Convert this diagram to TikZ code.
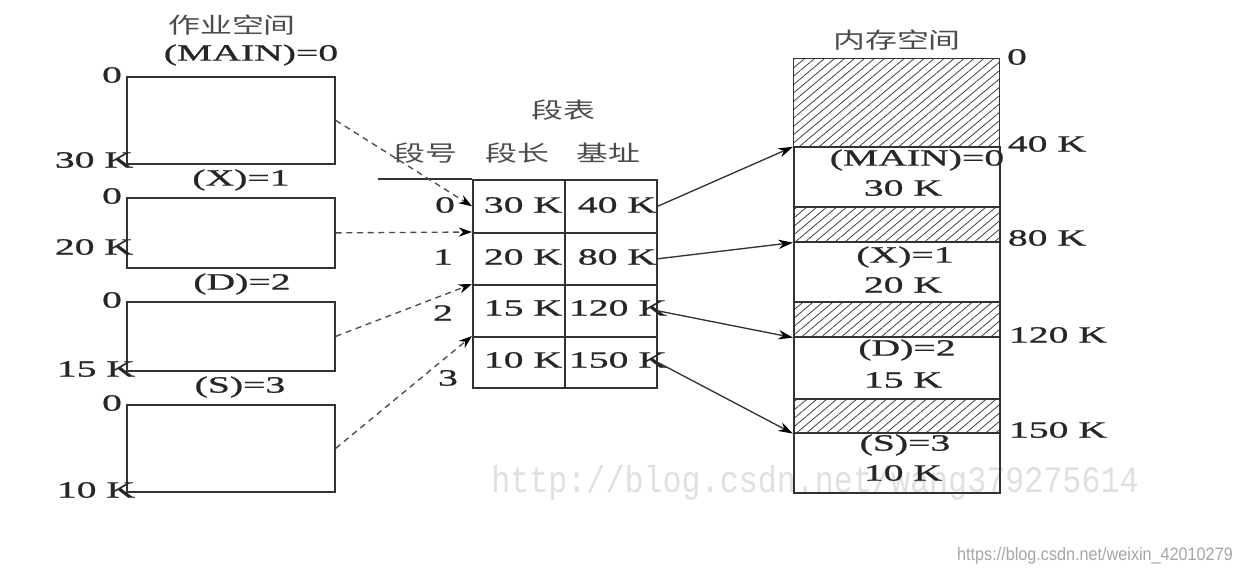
\documentclass[tikz,border=0pt]{standalone}
\usepackage{fontspec}
\setmainfont{Liberation Serif}[FakeStretch=1.7,FakeBold=0.9]
\newfontfamily\cjk{Noto Sans CJK SC}[FakeStretch=1.45]
\newfontfamily\wmmono{Liberation Mono}[FakeStretch=0.85]
\newfontfamily\wmsans{Liberation Sans}[FakeStretch=0.9]
\usetikzlibrary{arrows.meta,patterns.meta}
\newcommand\pxu{0.75pt}
\begin{document}
\begin{tikzpicture}[x=0.75pt,y=-0.75pt,
  lbl/.style={inner sep=0pt, font=\fontsize{17.5}{19}\selectfont, text=black!85},
  cjkl/.style={inner sep=0pt, font=\cjk\fontsize{16.5}{18}\selectfont, text=black!70},
  seg/.style={draw=black!80, line width=1.3pt, inner sep=0pt, anchor=north west, minimum width=208*\pxu},
  cell/.style={draw=black!80, line width=1.2pt, inner sep=0pt, anchor=north west, minimum width=92*\pxu},
  memw/.style={draw=black!80, line width=1.2pt, inner sep=0pt, anchor=north west, minimum width=206*\pxu},
  memh/.style={memw, pattern={Lines[angle=40,distance=4.8pt,line width=0.6pt]}, pattern color=black!75},
  dsh/.style={draw=black!70, line width=1pt, dash pattern=on 4.5pt off 3.5pt, -{Stealth[length=10pt,width=7pt,color=black]}},
  sol/.style={draw=black!80, line width=1pt, -{Stealth[length=11pt,width=7pt,color=black]}}
]
\useasboundingbox (0,0) rectangle (1240,575);
\fill[white] (0,0) rectangle (1240,575);

% watermarks
\node[inner sep=0pt, font=\wmmono\fontsize{28}{30}\selectfont, text=black!12] (wm1) at (815,483) {http://blog.csdn.net/wang379275614};
\node[inner sep=0pt, font=\wmsans\fontsize{13.5}{15}\selectfont, text=black!35] (wm2) at (1095,556) {https://blog.csdn.net/weixin\_42010279};

% job space
\node[cjkl] (t1) at (232,25) {作业空间};
\node[seg, minimum height=87*\pxu] (b1) at (126,76) {};
\node[seg, minimum height=70*\pxu] (b2) at (126,197) {};
\node[seg, minimum height=69*\pxu] (b3) at (126,301) {};
\node[seg, minimum height=87*\pxu] (b4) at (126,404) {};
\node[lbl] (n1) at (251,55) {(MAIN)=0};
\node[lbl] (n2) at (241,180) {(X)=1};
\node[lbl] (n3) at (242,284) {(D)=2};
\node[lbl] (n4) at (240,387) {(S)=3};
\node[lbl] (z1) at (112,75) {0};
\node[lbl] (z2) at (112,196) {0};
\node[lbl] (z3) at (112,300) {0};
\node[lbl] (z4) at (112,403) {0};
\node[lbl] (e1) at (94,160) {30 K};
\node[lbl] (e2) at (94,247) {20 K};
\node[lbl] (e3) at (96,369) {15 K};
\node[lbl] (e4) at (96,490) {10 K};

% segment table
\node[cjkl] (t2) at (563,110) {段表};
\node[cjkl] (h1) at (425,153) {段号};
\node[cjkl] (h2) at (517,153) {段长};
\node[cjkl] (h3) at (608,153) {基址};
\node[cell, minimum height=53*\pxu] (c01) at (472,179) {};
\node[cell, minimum height=53*\pxu] (c02) at (564,179) {};
\node[cell, minimum height=52*\pxu] (c11) at (472,232) {};
\node[cell, minimum height=52*\pxu] (c12) at (564,232) {};
\node[cell, minimum height=52*\pxu] (c21) at (472,284) {};
\node[cell, minimum height=52*\pxu] (c22) at (564,284) {};
\node[cell, minimum height=51*\pxu] (c31) at (472,336) {};
\node[cell, minimum height=51*\pxu] (c32) at (564,336) {};
\coordinate (hl) at (378,179);
\draw[draw=black!80, line width=1.2pt] (hl) -- (c01.north west);
\node[lbl] (r0) at (445,205) {0};
\node[lbl] (r1) at (443,257) {1};
\node[lbl] (r2) at (443,313) {2};
\node[lbl] (r3) at (448,378) {3};
\node[lbl] (v01) at (523,205) {30 K};
\node[lbl] (v02) at (617,205) {40 K};
\node[lbl] (v11) at (523,257) {20 K};
\node[lbl] (v12) at (617,257) {80 K};
\node[lbl] (v21) at (523,308) {15 K};
\node[lbl] (v22) at (618,308) {120 K};
\node[lbl] (v31) at (523,360) {10 K};
\node[lbl] (v32) at (618,360) {150 K};

% memory space
\node[cjkl] (t3) at (897,40) {内存空间};
\node[memh, minimum height=88*\pxu] (m1) at (793,58) {};
\node[memw, minimum height=60*\pxu] (m2) at (793,146) {};
\node[memh, minimum height=35*\pxu] (m3) at (793,206) {};
\node[memw, minimum height=60*\pxu] (m4) at (793,241) {};
\node[memh, minimum height=35*\pxu] (m5) at (793,301) {};
\node[memw, minimum height=62*\pxu] (m6) at (793,336) {};
\node[memh, minimum height=34*\pxu] (m7) at (793,398) {};
\node[memw, minimum height=60*\pxu] (m8) at (793,432) {};
\node[lbl] (p1) at (917,160) {(MAIN)=0};
\node[lbl] (q1) at (903,188) {30 K};
\node[lbl] (p2) at (905,257) {(X)=1};
\node[lbl] (q2) at (903,285) {20 K};
\node[lbl] (p3) at (907,350) {(D)=2};
\node[lbl] (q3) at (903,380) {15 K};
\node[lbl] (p4) at (905,445) {(S)=3};
\node[lbl] (q4) at (903,473) {10 K};
\node[lbl] (a0) at (1017,57) {0};
\node[lbl] (a1) at (1047,144) {40 K};
\node[lbl] (a2) at (1047,238) {80 K};
\node[lbl] (a3) at (1058,335) {120 K};
\node[lbl] (a4) at (1058,430) {150 K};

% connectors
\draw[dsh] (b1.east) -- (c01.west);
\draw[dsh] (b2.east) -- (c11.north west);
\draw[dsh] (b3.east) -- (c21.north west);
\draw[dsh] (b4.east) -- (c31.north west);
\draw[sol] (c02.east) -- (m1.south west);
\draw[sol] (c12.east) -- (m3.south west);
\draw[sol] (c22.east) -- (m5.south west);
\draw[sol] (c32.east) -- (m7.south west);
\end{tikzpicture}
\end{document}
